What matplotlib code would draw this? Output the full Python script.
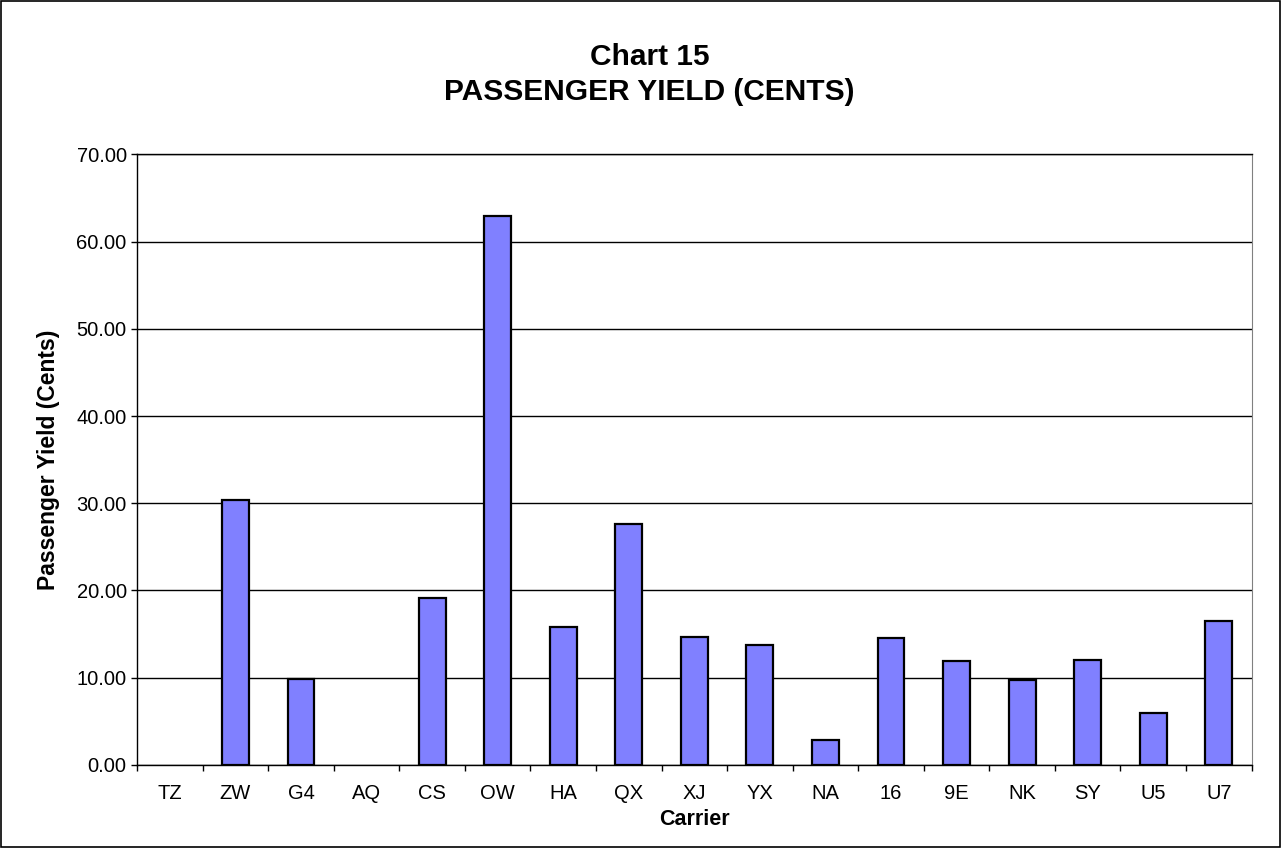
import matplotlib.pyplot as plt
import matplotlib
import numpy as np

matplotlib.rcParams['font.family'] = ['Liberation Sans', 'DejaVu Sans']

carriers = ['TZ', 'ZW', 'G4', 'AQ', 'CS', 'OW', 'HA', 'QX', 'XJ', 'YX',
            'NA', '16', '9E', 'NK', 'SY', 'U5', 'U7']
yield_cents = [0.0, 30.4, 9.9, 0.0, 19.1, 62.9, 15.8, 27.6, 14.7, 13.8,
               2.9, 14.6, 11.95, 9.7, 12.0, 6.0, 16.5]

fig = plt.figure(figsize=(12.81, 8.48), dpi=100)
ax = fig.add_axes([0.107, 0.098, 0.870, 0.720])

x = np.arange(len(carriers))
# 零值不画边框
lw = [1.6 if v > 0 else 0 for v in yield_cents]
ax.bar(x, yield_cents, width=0.41, color='#8080FF', edgecolor='black',
       linewidth=lw, zorder=3)

ax.set_xlim(-0.5, len(carriers) - 0.5)
ax.set_ylim(0, 70)
ax.set_yticks(np.arange(0, 71, 10))
ax.set_yticklabels(['%.2f' % v for v in np.arange(0, 71, 10)], fontsize=14.5)
ax.yaxis.grid(True, color='black', linewidth=1.0, zorder=0)

# 类别名放中间，刻度线放在分界处
ax.set_xticks(x)
ax.set_xticklabels(carriers, fontsize=14.5)
ax.tick_params(axis='x', which='major', length=0, pad=14)
ax.set_xticks(np.arange(-0.5, len(carriers), 1), minor=True)
ax.tick_params(axis='x', which='minor', length=4.5, width=1, direction='out')
ax.tick_params(axis='y', length=4.5, width=1, direction='out', pad=3)

for s in ['left', 'bottom', 'top']:
    ax.spines[s].set_linewidth(1.0)
ax.spines['right'].set_color('#808080')

ax.set_xlabel('Carrier', fontsize=15.5, fontweight='bold', labelpad=4)
ax.set_ylabel('Passenger Yield (Cents)', fontsize=16.5, fontweight='bold', labelpad=11.5)

fig.text(0.507, 0.933, 'Chart 15', ha='center', va='center',
         fontsize=21.5, fontweight='bold')
fig.text(0.507, 0.8915, 'PASSENGER YIELD (CENTS)', ha='center', va='center',
         fontsize=21.5, fontweight='bold')

# 外框
fig.patches.append(plt.Rectangle((0.001, 0.001), 0.998, 0.998, transform=fig.transFigure,
                                 fill=False, edgecolor='black', linewidth=1.2))

fig.savefig('out.png', dpi=100)
